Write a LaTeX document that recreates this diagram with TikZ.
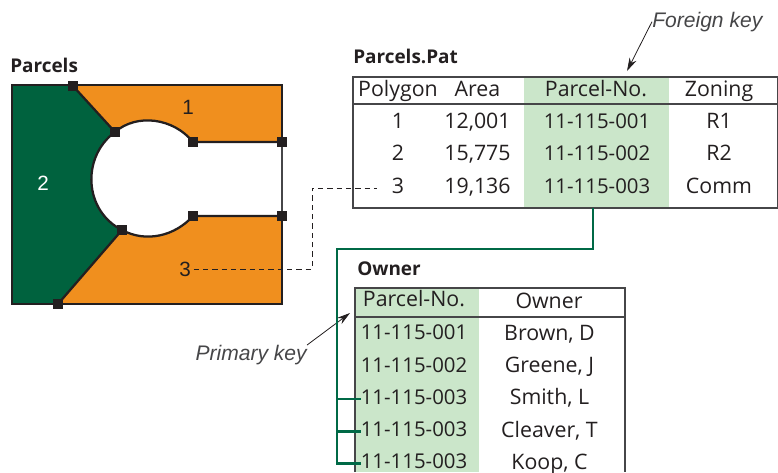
\documentclass[tikz,border=0pt]{standalone}
\usepackage{fontspec}
\setmainfont{Open Sans}
\newfontfamily\keyfont{Liberation Sans}
\usepackage{tikz}
\usetikzlibrary{arrows.meta, positioning}
\definecolor{parcelgreen}{RGB}{0,98,62}
\definecolor{parcelorange}{RGB}{240,143,30}
\definecolor{keygreen}{RGB}{203,230,202}
\definecolor{linkgreen}{RGB}{0,105,70}
\definecolor{inkgray}{RGB}{35,31,32}
\definecolor{rulegray}{RGB}{70,70,72}

\begin{document}
\begin{tikzpicture}[
                x=0.75pt, y=-0.75pt,
                cell/.style={inkgray, inner xsep=0pt, inner ysep=5pt, text height=11pt, text depth=3pt,
                            font=\fontsize{16}{18}\selectfont},
                keycell/.style={cell, font=\fontsize{15.3}{18}\selectfont},
                ownerrow/.style={inner ysep=4.88pt},
                tabletitle/.style={anchor=base west, inner sep=0pt, inkgray,
                            font=\fontsize{14.2}{16}\selectfont\bfseries},
                plabel/.style={inkgray, inner sep=2pt, font=\fontsize{15.5}{18}\selectfont\keyfont},
                keylabel/.style={inner sep=0pt, text height=11pt, text depth=3pt, rulegray,
                            font=\fontsize{15.8}{18}\selectfont\keyfont\itshape},
                vertex/.style={rectangle, fill=inkgray, inner sep=0pt, minimum size=6.8pt},
                tablerule/.style={rulegray, line width=1.1pt},
                edge/.style={inkgray, line width=1.7pt},
                link/.style={linkgreen, line width=1.9pt},
                arr/.style={-{Stealth[length=3.5mm, width=2mm]}, inkgray, line width=0.6pt}
            ]
                \useasboundingbox (0,0) rectangle (778,472);

                % parcels
                \coordinate (v1) at (73,86);
                \coordinate (v2) at (115,132);
                \coordinate (v3) at (193,142);
                \coordinate (v4) at (282,142);
                \coordinate (v5) at (282,216);
                \coordinate (v6) at (193,216);
                \coordinate (v7) at (122,230);
                \coordinate (v8) at (58,304);
                \coordinate (nw) at (12,85);
                \coordinate (ne) at (282,85);
                \coordinate (se) at (282,304);
                \coordinate (sw) at (12,304);

                \fill[parcelorange] (v1) -- (ne) -- (v4) -- (v3)
                    .. controls (173.5,118) and (137,113) .. (v2) -- cycle;
                \fill[parcelorange] (v7) .. controls (146,243) and (175,236) .. (v6)
                    -- (v5) -- (se) -- (v8) -- cycle;
                \fill[parcelgreen] (nw) -- (v1) -- (v2)
                    .. controls (81,157) and (84,211) .. (v7) -- (v8) -- (sw) -- cycle;

                \draw[edge] (v4) -- (ne) -- (nw) -- (sw) -- (se) -- (v5);
                \draw[rulegray, line width=1.1pt] (v4) -- (v5);
                \draw[edge] (v1) -- (v2);
                \draw[edge] (v7) -- (v8);
                \draw[edge] (v4) -- (v3) .. controls (173.5,118) and (137,113) .. (v2)
                    .. controls (81,157) and (84,211) .. (v7)
                    .. controls (146,243) and (175,236) .. (v6) -- (v5);

                \node[vertex] (topnode) at (v1) {};
                \node[vertex] (uppernode) at (v2) {};
                \node[vertex] (neckup) at (v3) {};
                \node[vertex] (sideup) at (v4) {};
                \node[vertex] (sidedown) at (v5) {};
                \node[vertex] (neckdown) at (v6) {};
                \node[vertex] (lowernode) at (v7) {};
                \node[vertex] (bottomnode) at (v8) {};

                \node[plabel] (lab1) at (188,107) {1};
                \node[plabel, white] (lab2) at (43,183) {2};
                \node[plabel] (lab3) at (185,269) {3};
                \node[tabletitle] (parcels) at (10,72) {Parcels};

                % Parcels.Pat table
                \node[tabletitle] (pattitle) at (353,63) {Parcels.Pat};
                \fill[keygreen] (524,77) rectangle (669,208);
                \draw[tablerule] (353,77) rectangle (777.5,208);
                \draw[tablerule] (353,104) -- (777.5,104);

                \node[cell] (hpoly) at (398,90.7) {Polygon};
                \node[cell] (harea) at (477.5,90.7) {Area};
                \node[cell] (hparcel) at (596,90.7) {Parcel-No.};
                \node[cell] (hzone) at (719,90.7) {Zoning};

                \node[cell] (a1) at (398,122.9) {1};
                \node[cell, below=0pt of a1] (a2) {2};
                \node[cell, below=0pt of a2] (a3) {3};
                \node[cell] (b1) at (477.5,122.9) {12,001};
                \node[cell, below=0pt of b1] (b2) {15,775};
                \node[cell, below=0pt of b2] (b3) {19,136};
                \node[keycell] (c1) at (597,122.9) {11-115-001};
                \node[keycell, below=0pt of c1] (c2) {11-115-002};
                \node[keycell, below=0pt of c2] (c3) {11-115-003};
                \node[cell] (d1) at (719,122.9) {R1};
                \node[cell, below=0pt of d1] (d2) {R2};
                \node[cell, below=0pt of d2] (d3) {Comm};

                % Owner table
                \node[tabletitle] (ownertitle) at (357,275) {Owner};
                \fill[keygreen] (355,288) rectangle (479,472);
                \draw[tablerule] (355,472) -- (355,288) -- (625,288) -- (625,472);
                \draw[tablerule] (355,317) -- (625,317);

                \node[cell] (hkey) at (414,301) {Parcel-No.};
                \node[cell] (hname) at (549,303) {Owner};

                \node[keycell, ownerrow] (k1) at (414,334.6) {11-115-001};
                \node[keycell, ownerrow, below=0pt of k1] (k2) {11-115-002};
                \node[keycell, ownerrow, below=0pt of k2] (k3) {11-115-003};
                \node[keycell, ownerrow, below=0pt of k3] (k4) {11-115-003};
                \node[keycell, ownerrow, below=0pt of k4] (k5) {11-115-003};
                \node[cell, ownerrow] (o1) at (549.5,335.2) {Brown, D};
                \node[cell, ownerrow, below=0pt of o1] (o2) {Greene, J};
                \node[cell, ownerrow, below=0pt of o2] (o3) {Smith, L};
                \node[cell, ownerrow, below=0pt of o3] (o4) {Cleaver, T};
                \node[cell, ownerrow, below=0pt of o4] (o5) {Koop, C};

                % keys
                \node[keylabel, anchor=base west] (fkey) at (652,27) {Foreign key};
                \node[keylabel, anchor=base east] (pkey) at (307,360) {Primary key};
                \coordinate (fktip) at (627,71);
                \coordinate (pktip) at (350,313);
                \draw[arr] (fkey.west) -- (fktip);
                \draw[arr] (pkey.north east) -- (pktip);

                % links
                \coordinate (dashbend) at (312,269);
                \draw[inkgray, line width=0.6pt, dash pattern=on 4pt off 3pt, shorten >=11pt]
                    (lab3.east) -- (dashbend) -- (dashbend |- c3.west) -- (a3.west);

                \coordinate (patkey) at (593,208);
                \coordinate (bend1) at (593,249);
                \coordinate (bend2) at (337,249);
                \draw[link] (patkey) -- (bend1) -- (bend2) |- (k5.west);
                \draw[link] (bend2 |- k3.west) -- (k3.west);
                \draw[link] (bend2 |- k4.west) -- (k4.west);
            \end{tikzpicture}
\end{document}
